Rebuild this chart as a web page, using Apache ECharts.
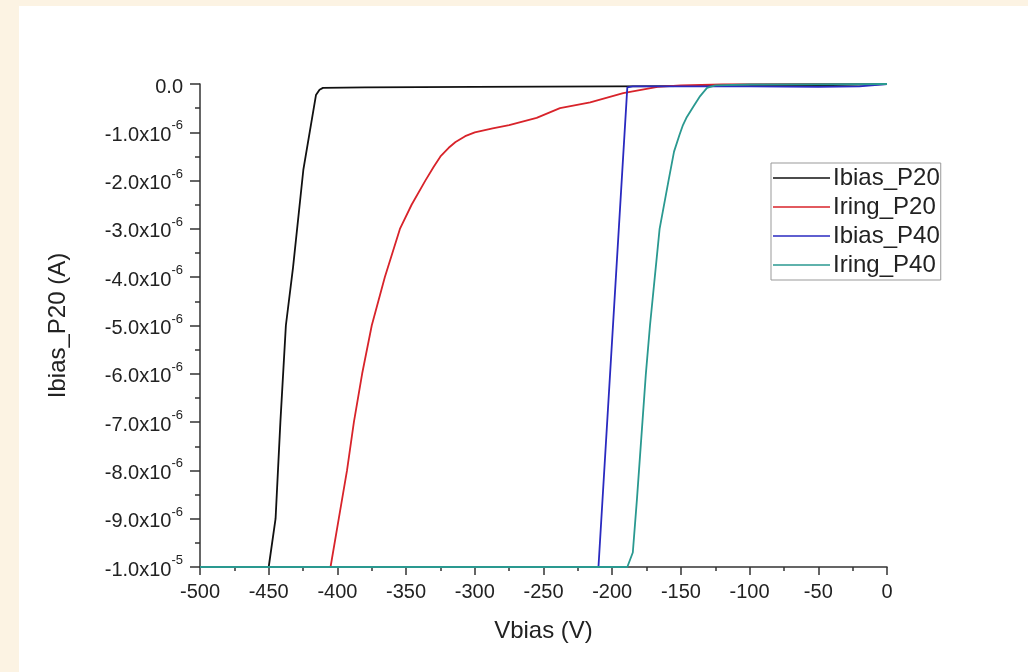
<!DOCTYPE html>
<html>
<head>
<meta charset="utf-8">
<script src="https://cdn.jsdelivr.net/npm/echarts@6/dist/echarts.min.js"></script>
<style>
    html, body { margin: 0; padding: 0; background: #fcf3e3; }
    #chart { position: absolute; left: 19px; top: 6px; width: 1009px; height: 666px; background: #ffffff; }
</style>
</head>
<body>
<div id="chart"></div>
<script>
// current values are in units of 1e-6 A
var ibiasP20V = [-500, -450, -445, -441.5, -437.5, -432.3, -424.8, -415.6, -413, -410.5, -380, -300, -200, -100, -50, 0];
var ibiasP20I = [-10, -10, -9.0, -7.0, -5.0, -3.8, -1.78, -0.23, -0.12, -0.08, -0.07, -0.06, -0.05, -0.04, -0.03, 0];

var iringP20V = [-500, -405, -399, -393, -388, -382, -375, -365.5, -354.5, -346, -336, -330, -325, -319, -314, -307, -300, -287, -275, -255, -238, -216, -192, -167, -150, -120, -50, 0];
var iringP20I = [-10, -10, -9, -8, -7, -6, -5, -4, -3, -2.5, -2, -1.72, -1.5, -1.32, -1.2, -1.08, -1.0, -0.92, -0.85, -0.7, -0.5, -0.38, -0.19, -0.06, -0.03, -0.01, 0, 0];

var ibiasP40V = [-500, -210, -189, -185, -150, -100, -50, -20, 0];
var ibiasP40I = [-10, -10, -0.07, -0.05, -0.05, -0.05, -0.06, -0.05, 0];

var iringP40V = [-500, -189, -185, -182, -178, -175.5, -172.5, -169, -165.5, -159, -155, -151, -148.5, -146, -141, -136, -131, -125, -100, 0];
var iringP40I = [-10, -10, -9.7, -8.6, -7, -6, -5, -4, -3, -2, -1.4, -1.05, -0.85, -0.7, -0.47, -0.25, -0.08, -0.03, -0.01, 0];

var seriesNames = ['Ibias_P20', 'Iring_P20', 'Ibias_P40', 'Iring_P40'];
var seriesColors = ['#111111', '#d8232a', '#2a2ac0', '#2a9990'];

function zip(xs, ys) {
    var out = [];
    for (var i = 0; i < xs.length; i++) {
        out.push([xs[i], ys[i]]);
    }
    return out;
}

var seriesData = [
    zip(ibiasP20V, ibiasP20I),
    zip(iringP20V, iringP20I),
    zip(ibiasP40V, ibiasP40I),
    zip(iringP40V, iringP40I)
];

var fontFamily = 'Liberation Sans, Arial, sans-serif';

var chart = echarts.init(document.getElementById('chart'));

var series = [];
for (var k = 0; k < seriesNames.length; k++) {
    series.push({
        name: seriesNames[k],
        type: 'line',
        data: seriesData[k],
        showSymbol: false,
        symbol: 'none',
        lineStyle: { color: seriesColors[k], width: 1.8 },
        itemStyle: { color: seriesColors[k] },
        z: 2 + k
    });
}

var option = {
    animation: false,
    color: seriesColors,
    grid: {
        left: 181,
        right: 141,
        top: 78,
        bottom: 105
    },
    legend: {
        orient: 'vertical',
        left: 752,
        top: 157,
        data: seriesNames,
        icon: 'rect',
        itemWidth: 57,
        itemHeight: 1.5,
        itemGap: 5,
        padding: [3, 1, 3, 2],
        borderColor: '#999999',
        borderWidth: 1,
        textStyle: { fontFamily: fontFamily, fontSize: 24, color: '#222222', lineHeight: 24, padding: [0, 0, 0, -2] }
    },
    xAxis: {
        type: 'value',
        min: -500,
        max: 0,
        interval: 50,
        name: 'Vbias (V)',
        nameLocation: 'middle',
        nameGap: 52,
        nameTextStyle: { fontFamily: fontFamily, fontSize: 24, color: '#222222' },
        axisLine: { show: true, onZero: false, lineStyle: { color: '#333333', width: 1.5 } },
        axisTick: { show: true, inside: false, length: 8, lineStyle: { color: '#333333', width: 1.5 } },
        minorTick: { show: true, splitNumber: 2, length: 4, lineStyle: { color: '#333333', width: 1.5 } },
        axisLabel: { fontFamily: fontFamily, fontSize: 20, color: '#222222', margin: 15 },
        splitLine: { show: false }
    },
    yAxis: {
        type: 'value',
        min: -10,
        max: 0,
        interval: 1,
        name: 'Ibias_P20 (A)',
        nameLocation: 'middle',
        nameGap: 130,
        nameTextStyle: { fontFamily: fontFamily, fontSize: 24, color: '#222222' },
        axisLine: { show: true, onZero: false, lineStyle: { color: '#333333', width: 1.5 } },
        axisTick: { show: true, inside: false, length: 10, lineStyle: { color: '#333333', width: 1.5 } },
        minorTick: { show: true, splitNumber: 2, length: 5, lineStyle: { color: '#333333', width: 1.5 } },
        axisLabel: {
            margin: 17,
            formatter: function (v) {
                if (Math.abs(v) < 1e-9) return '{b|0.0}';
                if (Math.abs(v + 10) < 1e-9) return '{b|-1.0x10}{s|-5}';
                return '{b|' + v.toFixed(1) + 'x10}{s|-6}';
            },
            rich: {
                b: { fontFamily: fontFamily, fontSize: 20, color: '#222222', lineHeight: 26, verticalAlign: 'bottom' },
                s: { fontFamily: fontFamily, fontSize: 13, color: '#222222', lineHeight: 26, verticalAlign: 'top' }
            }
        },
        splitLine: { show: false }
    },
    series: series
};

chart.setOption(option);
</script>
</body>
</html>
